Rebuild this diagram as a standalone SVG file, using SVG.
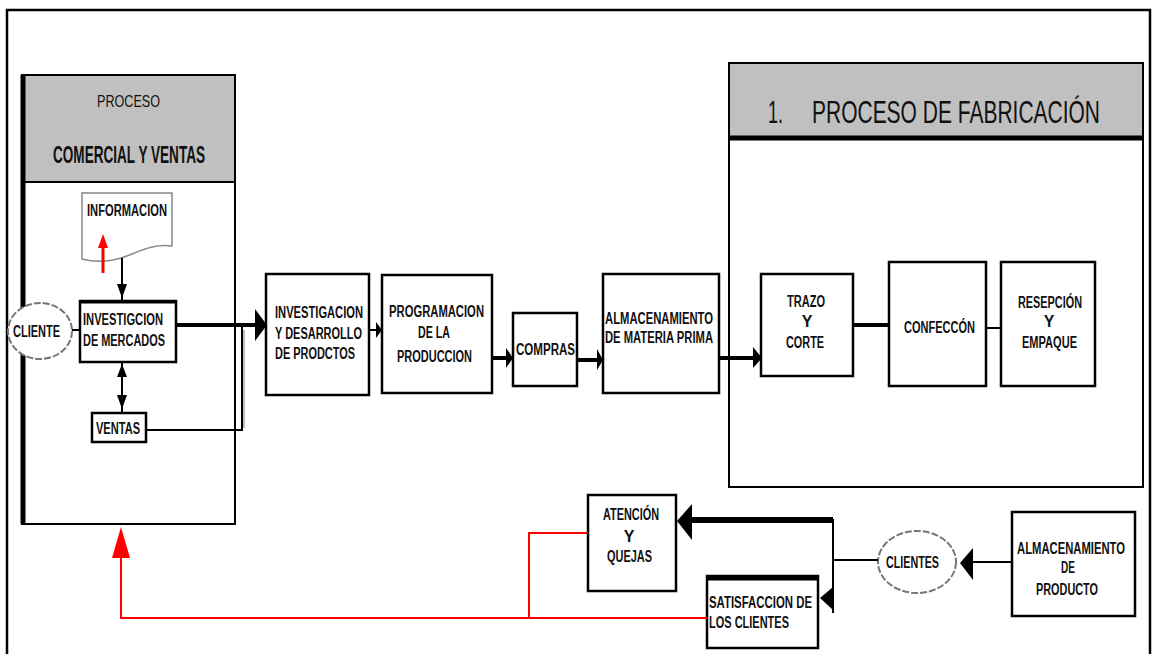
<svg xmlns="http://www.w3.org/2000/svg" width="1154" height="654" viewBox="0 0 1154 654">
<style>
.t{font-family:"Liberation Sans Narrow","Liberation Sans",Arial,sans-serif;font-weight:bold;font-size:16px;fill:#111}
.h1{font-size:17px;font-weight:normal}
.h2{font-size:24px}
.ti{font-size:32px;font-weight:normal}
.box{fill:#fff;stroke:#000;stroke-width:2.5}
.ln{fill:none;stroke:#000;stroke-width:2}
.thk{fill:none;stroke:#000;stroke-width:4}
.red{fill:none;stroke:#f00;stroke-width:2}
.ah{fill:#000}
</style>
<rect width="1154" height="654" fill="#fff"/>
<rect x="7" y="10" width="1143" height="670" fill="none" stroke="#000" stroke-width="2.5"/>

<g id="panel-comercial">
<rect x="22" y="75" width="213" height="449" fill="#fff" stroke="#000" stroke-width="2"/>
<rect x="22" y="75" width="213" height="107" fill="#c0c0c0" stroke="#000" stroke-width="2"/>
<line x1="23" y1="75" x2="23" y2="524" stroke="#000" stroke-width="5"/>
<text class="t h1" x="97" y="107" textLength="63" lengthAdjust="spacingAndGlyphs">PROCESO</text>
<text class="t h2" x="53" y="163" textLength="152" lengthAdjust="spacingAndGlyphs">COMERCIAL Y VENTAS</text>
</g>

<g id="panel-fabricacion">
<rect x="729" y="63" width="414" height="424" fill="#fff" stroke="#000" stroke-width="2"/>
<rect x="729" y="63" width="414" height="75" fill="#c0c0c0" stroke="#000" stroke-width="2"/>
<line x1="729" y1="138" x2="1143" y2="138" stroke="#000" stroke-width="5"/>
<text class="t ti" x="768" y="123" textLength="15" lengthAdjust="spacingAndGlyphs">1.</text>
<text class="t ti" x="812" y="123" textLength="288" lengthAdjust="spacingAndGlyphs">PROCESO DE FABRICACIÓN</text>
</g>

<g id="informacion">
<path d="M82,193 H172 V246 C158,244 146,248 132,254 C118,260 100,264 82,259 Z" fill="#fff" stroke="#888" stroke-width="1.5"/>
<text class="t" x="87" y="216" textLength="80" lengthAdjust="spacingAndGlyphs">INFORMACION</text>
</g>

<g id="cliente">
<ellipse cx="40" cy="331" rx="32" ry="28" fill="#fff" stroke="#777" stroke-width="2" stroke-dasharray="7,2"/>
<text class="t" x="13" y="337" textLength="47" lengthAdjust="spacingAndGlyphs">CLIENTE</text>
</g>

<g id="investigacion-mercados">
<rect class="box" x="80" y="301" width="96" height="61"/>
<line x1="80" y1="302" x2="176" y2="302" stroke="#000" stroke-width="3"/>
<text class="t" x="83" y="325" textLength="80" lengthAdjust="spacingAndGlyphs">INVESTIGCION</text>
<text class="t" x="83" y="346" textLength="82" lengthAdjust="spacingAndGlyphs">DE MERCADOS</text>
</g>

<g id="ventas">
<rect class="box" x="92" y="413" width="54" height="29"/>
<text class="t" x="96" y="434" textLength="44" lengthAdjust="spacingAndGlyphs">VENTAS</text>
</g>

<g id="investigacion-desarrollo">
<rect class="box" x="266" y="274" width="103" height="121"/>
<text class="t" x="275" y="318" textLength="88" lengthAdjust="spacingAndGlyphs">INVESTIGACION</text>
<text class="t" x="275" y="339" textLength="87" lengthAdjust="spacingAndGlyphs">Y DESARROLLO</text>
<text class="t" x="275" y="359" textLength="80" lengthAdjust="spacingAndGlyphs">DE PRODCTOS</text>
</g>

<g id="programacion">
<rect class="box" x="382" y="275" width="110" height="118"/>
<text class="t" x="389" y="317" textLength="95" lengthAdjust="spacingAndGlyphs">PROGRAMACION</text>
<text class="t" x="418" y="338" textLength="32" lengthAdjust="spacingAndGlyphs">DE LA</text>
<text class="t" x="397" y="362" textLength="75" lengthAdjust="spacingAndGlyphs">PRODUCCION</text>
</g>

<g id="compras">
<rect class="box" x="513" y="313" width="64" height="73"/>
<text class="t" x="516" y="355" textLength="59" lengthAdjust="spacingAndGlyphs">COMPRAS</text>
</g>

<g id="almacenamiento-mp">
<rect class="box" x="603" y="274" width="116" height="119"/>
<text class="t" x="605" y="324" textLength="108" lengthAdjust="spacingAndGlyphs">ALMACENAMIENTO</text>
<text class="t" x="605" y="343" textLength="108" lengthAdjust="spacingAndGlyphs">DE MATERIA PRIMA</text>
</g>

<g id="trazo-corte">
<rect class="box" x="761" y="274" width="92" height="102"/>
<text class="t" x="787" y="307" textLength="38" lengthAdjust="spacingAndGlyphs">TRAZO</text>
<text class="t" x="807" y="327" text-anchor="middle">Y</text>
<text class="t" x="786" y="348" textLength="38" lengthAdjust="spacingAndGlyphs">CORTE</text>
</g>

<g id="confeccion">
<rect class="box" x="889" y="262" width="97" height="124"/>
<text class="t" x="904" y="333" textLength="71" lengthAdjust="spacingAndGlyphs">CONFECCÓN</text>
</g>

<g id="resepcion">
<rect class="box" x="1001" y="262" width="94" height="124"/>
<text class="t" x="1018" y="308" textLength="64" lengthAdjust="spacingAndGlyphs">RESEPCIÓN</text>
<text class="t" x="1049" y="327" text-anchor="middle">Y</text>
<text class="t" x="1022" y="348" textLength="55" lengthAdjust="spacingAndGlyphs">EMPAQUE</text>
</g>

<g id="atencion-quejas">
<rect class="box" x="588" y="495" width="88" height="96"/>
<text class="t" x="603" y="520" textLength="56" lengthAdjust="spacingAndGlyphs">ATENCIÓN</text>
<text class="t" x="629" y="542" text-anchor="middle">Y</text>
<text class="t" x="607" y="562" textLength="45" lengthAdjust="spacingAndGlyphs">QUEJAS</text>
</g>

<g id="satisfaccion">
<rect class="box" x="707" y="576" width="111" height="72"/>
<line x1="707" y1="578" x2="818" y2="578" stroke="#000" stroke-width="5"/>
<text class="t" x="709" y="608" textLength="103" lengthAdjust="spacingAndGlyphs">SATISFACCION DE</text>
<text class="t" x="709" y="628" textLength="80" lengthAdjust="spacingAndGlyphs">LOS CLIENTES</text>
</g>

<g id="clientes">
<ellipse cx="917" cy="562" rx="39" ry="31" fill="#fff" stroke="#777" stroke-width="2" stroke-dasharray="7,2"/>
<text class="t" x="886" y="568" textLength="53" lengthAdjust="spacingAndGlyphs">CLIENTES</text>
</g>

<g id="almacenamiento-producto">
<rect class="box" x="1012" y="512" width="123" height="104"/>
<text class="t" x="1017" y="554" textLength="108" lengthAdjust="spacingAndGlyphs">ALMACENAMIENTO</text>
<text class="t" x="1061" y="573" textLength="14" lengthAdjust="spacingAndGlyphs">DE</text>
<text class="t" x="1036" y="595" textLength="62" lengthAdjust="spacingAndGlyphs">PRODUCTO</text>
</g>

<g id="connectors">
<line class="ln" x1="122" y1="258" x2="122" y2="300" stroke-width="1.5"/>
<polygon class="ah" points="117,284 127,284 122,298"/>
<line class="ln" x1="72" y1="330" x2="80" y2="330"/>
<line class="ln" x1="122" y1="362" x2="122" y2="413" stroke-width="1.5"/>
<polygon class="ah" points="122,364 117,377 127,377"/>
<polygon class="ah" points="117,395 127,395 122,409"/>
<line class="thk" x1="176" y1="325" x2="258" y2="325"/>
<polygon class="ah" points="255,309 267,325 255,341"/>
<polyline class="ln" points="146,430 242,430 242,327"/>
<line x1="244" y1="428" x2="244" y2="330" stroke="#aaa" stroke-width="1.5"/>
<line class="ln" x1="369" y1="330" x2="380" y2="330" stroke-width="3"/>
<polygon class="ah" points="376,322 382,330 376,338"/>
<line class="thk" x1="492" y1="358" x2="510" y2="358"/>
<polygon class="ah" points="506,348 513,358 506,368"/>
<line class="thk" x1="577" y1="360" x2="600" y2="360"/>
<polygon class="ah" points="597,349 603,360 597,370"/>
<line class="thk" x1="719" y1="358" x2="758" y2="358"/>
<polygon class="ah" points="753,347 762,358 753,368"/>
<line class="thk" x1="853" y1="325" x2="889" y2="325"/>
<line class="ln" x1="986" y1="328" x2="1001" y2="328" stroke-width="1.5"/>
<line class="ln" x1="1012" y1="562" x2="965" y2="562"/>
<polygon class="ah" points="973,548 960,563 973,580"/>
<line class="ln" x1="878" y1="560" x2="832" y2="560"/>
<line class="ln" x1="833" y1="519" x2="833" y2="613"/>
<line x1="833" y1="520" x2="688" y2="520" stroke="#000" stroke-width="6"/>
<polygon class="ah" points="692,504 677,521 692,540"/>
<polygon class="ah" points="833,587 820,598 833,610"/>
<polyline class="red" points="588,533 529,533 529,618"/>
<polyline class="red" points="707,618 121,618 121,545"/>
<polygon points="121,527 112,558 130,558" fill="#f00"/>
<line x1="103" y1="273" x2="103" y2="244" stroke="#f00" stroke-width="3"/>
<polygon points="103,234 98,248 108,248" fill="#f00"/>
</g>
</svg>
